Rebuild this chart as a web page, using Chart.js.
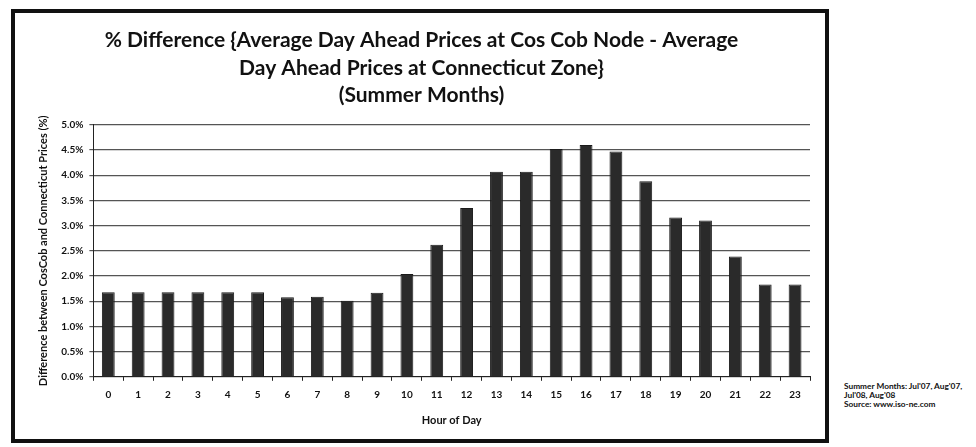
<!DOCTYPE html>
<html>
<head>
<meta charset="utf-8">
<script src="https://cdn.jsdelivr.net/npm/chart.js@4"></script>
<style>
  body { margin: 0; background: #fff; width: 976px; height: 447px; position: relative; overflow: hidden; }
  .frame { position: absolute; left: 11px; top: 9px; width: 810px; height: 426px; border: 4px solid #111; }
  .frame canvas { display: block; }
  .note { position: absolute; left: 844px; top: 382px; font: bold 8.3px Lato, sans-serif; line-height: 9px; color: #111; }
</style>
</head>
<body>
<div class="frame"><canvas id="chart" width="810" height="426"></canvas></div>
<div class="note">Summer Months: Jul'07, Aug'07,<br>Jul'08, Aug'08<br>Source: www.iso-ne.com</div>
<script>
const hours = ['0','1','2','3','4','5','6','7','8','9','10','11','12','13','14','15','16','17','18','19','20','21','22','23'];
const pctDiff = [1.68, 1.68, 1.68, 1.68, 1.68, 1.68, 1.58, 1.59, 1.51, 1.67, 2.04, 2.62, 3.35, 4.07, 4.07, 4.52, 4.60, 4.47, 3.88, 3.16, 3.10, 2.39, 1.83, 1.83];
const titleLines = [
  '% Difference {Average Day Ahead Prices at Cos Cob Node - Average',
  'Day Ahead Prices at Connecticut Zone}',
  '(Summer Months)'
];

const ctx = document.getElementById('chart').getContext('2d');
new Chart(ctx, {
  type: 'bar',
  data: {
    labels: hours,
    datasets: [{
      data: pctDiff,
      backgroundColor: '#2a2a2a',
      borderColor: '#1a1a1a',
      borderWidth: 1,
      barPercentage: 0.43,
      categoryPercentage: 1
    }]
  },
  options: {
    responsive: false,
    animation: false,
    layout: { padding: { left: 18, right: 15, top: 0, bottom: 8 } },
    plugins: {
      legend: { display: false },
      tooltip: { enabled: false },
      title: {
        display: true,
        text: titleLines,
        color: '#111',
        font: { family: 'Lato', size: 21, weight: 'bold', lineHeight: 1.3 },
        padding: { top: 14, bottom: 16 }
      }
    },
    scales: {
      x: {
        grid: { drawOnChartArea: false, color: '#222', tickLength: 4, offset: true },
        border: { color: '#222', width: 1 },
        ticks: { color: '#111', font: { family: 'Lato', size: 10, weight: 'bold' }, padding: 8, maxRotation: 0 },
        title: { display: true, text: 'Hour of Day', color: '#111', font: { family: 'Lato', size: 11, weight: 'bold' }, padding: { top: 5 } }
      },
      y: {
        min: 0,
        max: 5,
        ticks: {
          stepSize: 0.5,
          color: '#111',
          font: { family: 'Lato', size: 10, weight: 'bold' },
          padding: 6,
          callback: v => v.toFixed(1) + '%'
        },
        grid: { color: '#555', lineWidth: 1.2, tickLength: 4 },
        border: { color: '#222', width: 1 },
        title: { display: true, text: 'Difference between CosCob and Connecticut Prices (%)', color: '#111', font: { family: 'Lato', size: 11, weight: 'bold' }, padding: { bottom: 5 } }
      }
    }
  }
});
</script>
</body>
</html>
